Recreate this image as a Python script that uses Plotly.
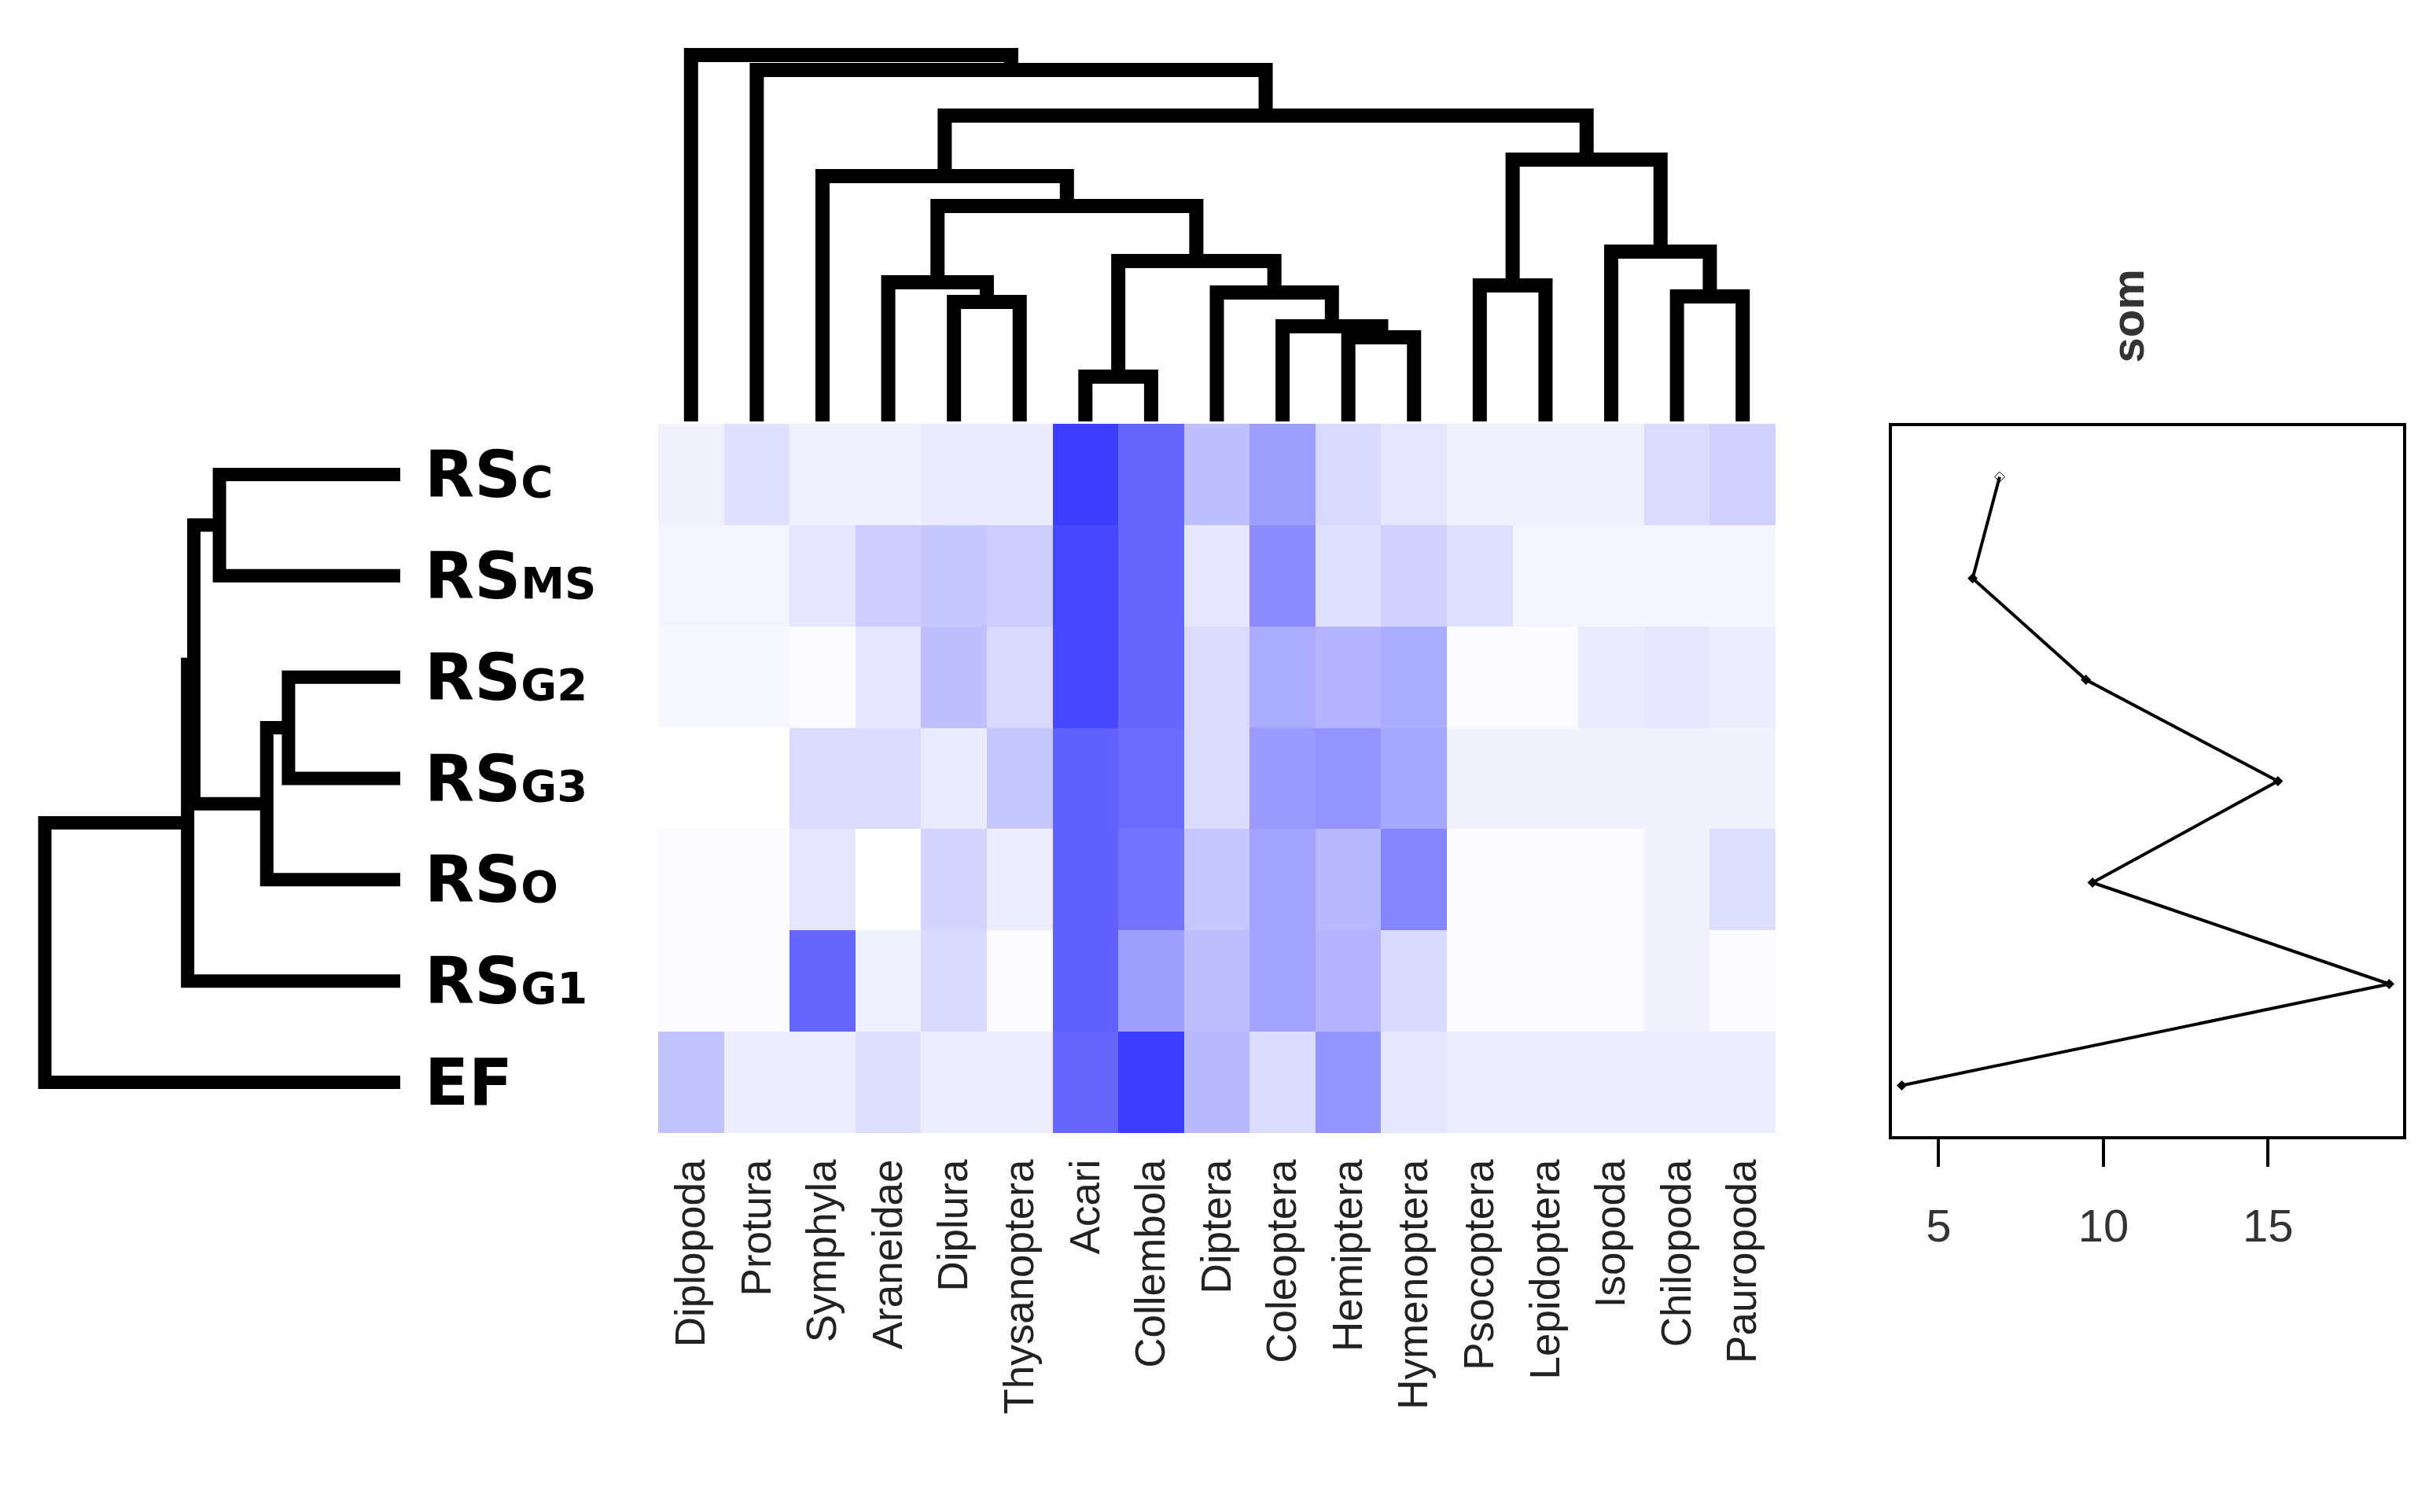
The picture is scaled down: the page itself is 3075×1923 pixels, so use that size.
import plotly.graph_objects as go

# taxones (columnas, en el orden del dendrograma)
taxa = ['Diplopoda', 'Protura', 'Symphyla', 'Araneidae', 'Diplura', 'Thysanoptera',
        'Acari', 'Collembola', 'Diptera', 'Coleoptera', 'Hemiptera', 'Hymenoptera',
        'Psocoptera', 'Lepidoptera', 'Isopoda', 'Chilopoda', 'Pauropoda']

# sitios (filas): nombre principal + subíndice
site_main = ['RS', 'RS', 'RS', 'RS', 'RS', 'RS', 'EF']
site_sub = ['C', 'MS', 'G2', 'G3', 'O', 'G1', '']

# abundancia relativa escalada (0 = blanco, 1 = azul)
rs_c  = [0.05, 0.12, 0.06, 0.06, 0.08, 0.08, 0.76, 0.60, 0.25, 0.38, 0.15, 0.10, 0.06, 0.06, 0.06, 0.14, 0.18]
rs_ms = [0.04, 0.04, 0.10, 0.20, 0.22, 0.20, 0.72, 0.60, 0.10, 0.45, 0.12, 0.18, 0.12, 0.04, 0.04, 0.04, 0.04]
rs_g2 = [0.03, 0.03, 0.02, 0.10, 0.25, 0.15, 0.72, 0.60, 0.14, 0.33, 0.30, 0.33, 0.02, 0.02, 0.08, 0.10, 0.07]
rs_g3 = [0.00, 0.00, 0.14, 0.14, 0.08, 0.22, 0.62, 0.58, 0.14, 0.40, 0.42, 0.35, 0.05, 0.05, 0.05, 0.05, 0.05]
rs_o  = [0.02, 0.02, 0.10, 0.00, 0.17, 0.07, 0.62, 0.55, 0.22, 0.36, 0.28, 0.48, 0.02, 0.02, 0.02, 0.05, 0.13]
rs_g1 = [0.02, 0.02, 0.60, 0.06, 0.15, 0.02, 0.62, 0.38, 0.25, 0.36, 0.30, 0.15, 0.02, 0.02, 0.02, 0.05, 0.02]
ef    = [0.24, 0.07, 0.07, 0.13, 0.07, 0.07, 0.60, 0.76, 0.28, 0.14, 0.42, 0.10, 0.07, 0.07, 0.07, 0.07, 0.07]

# materia orgánica del suelo por sitio
som = [6.85, 6.03, 9.47, 15.3, 9.67, 18.68, 3.88]

# uniones de los dendrogramas: (hijo izq, hijo der, altura); indices >= n son uniones previas
col_merges = [(6, 7, 0.57), (10, 11, 1.07), (9, 18, 1.21), (4, 5, 1.52), (15, 16, 1.59),
              (8, 19, 1.64), (12, 13, 1.73), (3, 20, 1.77), (17, 22, 2.04), (14, 21, 2.16),
              (24, 25, 2.74), (2, 27, 3.12), (23, 26, 3.33), (28, 29, 3.89), (1, 30, 4.47),
              (0, 31, 4.66)]
row_merges = [(2, 3, 1.44), (7, 4, 1.72), (0, 1, 2.33), (9, 8, 2.66), (10, 5, 2.74), (11, 6, 4.58)]


def segmentos(merges, n):
    pos = list(range(n))
    alt = [0.0] * n
    p, h = [], []
    for izq, der, altura in merges:
        p += [pos[izq], pos[izq], pos[der], pos[der], None]
        h += [alt[izq], altura, altura, alt[der], None]
        pos.append((pos[izq] + pos[der]) / 2)
        alt.append(altura)
    return p, h


W, H = 3075, 1923
hm_x = [829 / W, 2250 / W]
hm_y = [1 - 1433 / H, 1 - 531 / H]

z = [rs_c, rs_ms, rs_g2, rs_g3, rs_o, rs_g1, ef]
fig = go.Figure()
fig.add_trace(go.Heatmap(z=z, x=list(range(len(taxa))), y=list(range(len(z))),
                         colorscale=[[0, '#FFFFFF'], [1, '#0000FF']], zmin=0, zmax=1,
                         showscale=False, xaxis='x', yaxis='y'))

cx, cy = segmentos(col_merges, len(taxa))
fig.add_trace(go.Scatter(x=cx, y=cy, mode='lines', line=dict(color='black', width=18),
                         xaxis='x2', yaxis='y2', showlegend=False, hoverinfo='skip'))

rx, ry = segmentos(row_merges, len(z))
fig.add_trace(go.Scatter(x=ry, y=rx, mode='lines', line=dict(color='black', width=17),
                         xaxis='x3', yaxis='y3', showlegend=False, hoverinfo='skip'))

fig.add_trace(go.Scatter(x=som, y=list(range(len(som))), mode='lines+markers',
                         line=dict(color='black', width=4),
                         marker=dict(color='black', size=10,
                                     symbol=['diamond-open'] + ['diamond'] * (len(som) - 1)),
                         xaxis='x4', yaxis='y4', showlegend=False))

col_top = col_merges[-1][2]
row_top = row_merges[-1][2]
oculto = dict(showgrid=False, zeroline=False, showticklabels=False, ticks='')

fig.update_layout(
    width=W, height=H, margin=dict(l=0, r=0, t=0, b=0),
    plot_bgcolor='white', paper_bgcolor='white', showlegend=False,
    xaxis=dict(domain=hm_x, range=[-0.5, 16.5], tickmode='array',
               tickvals=list(range(len(taxa))), ticktext=taxa, tickangle=-90,
               ticklabelstandoff=22, ticks='', showgrid=False, zeroline=False,
               tickfont=dict(family='Liberation Sans', size=53, color='#222222')),
    yaxis=dict(domain=hm_y, range=[6.5, -0.5], **oculto),
    xaxis2=dict(domain=hm_x, range=[-0.5, 16.5], anchor='y2', **oculto),
    yaxis2=dict(domain=[1 - 528 / H, 1], range=[0, col_top * 528 / 466], anchor='x2', **oculto),
    xaxis3=dict(domain=[0, 501 / W], range=[row_top * 501 / 452, 0], anchor='y3', **oculto),
    yaxis3=dict(domain=hm_y, range=[6.5, -0.5], anchor='x3', **oculto),
    xaxis4=dict(domain=[2398 / W, 3048 / W], range=[3.58, 19.1], anchor='y4',
                tickvals=[5, 10, 15], ticks='outside', ticklen=35, tickwidth=4,
                tickcolor='black', ticklabelstandoff=25, showgrid=False, zeroline=False,
                showline=True, mirror=True, linecolor='black', linewidth=4,
                tickfont=dict(family='Liberation Sans', size=58, color='#333333')),
    yaxis4=dict(domain=[1 - 1437 / H, 1 - 534 / H], range=[6.5, -0.5], anchor='x4',
                showline=True, mirror=True, linecolor='black', linewidth=4, **oculto),
)

for i in range(len(z)):
    texto = '<b>' + site_main[i]
    if site_sub[i]:
        texto += "<span style='font-size:56px'>" + site_sub[i] + '</span>'
    texto += '</b>'
    fig.add_annotation(text=texto, xref='paper', yref='y', x=530 / W, y=i,
                       xanchor='left', yanchor='middle', showarrow=False,
                       font=dict(family='DejaVu Sans', size=82, color='black'))

fig.add_annotation(text='<b>som</b>', xref='paper', yref='paper', x=2731 / W, y=1 - 394 / H,
                   textangle=-90, showarrow=False, yanchor='middle',
                   font=dict(family='Liberation Sans', size=58, color='#333333'))

fig.write_html("out.html")
